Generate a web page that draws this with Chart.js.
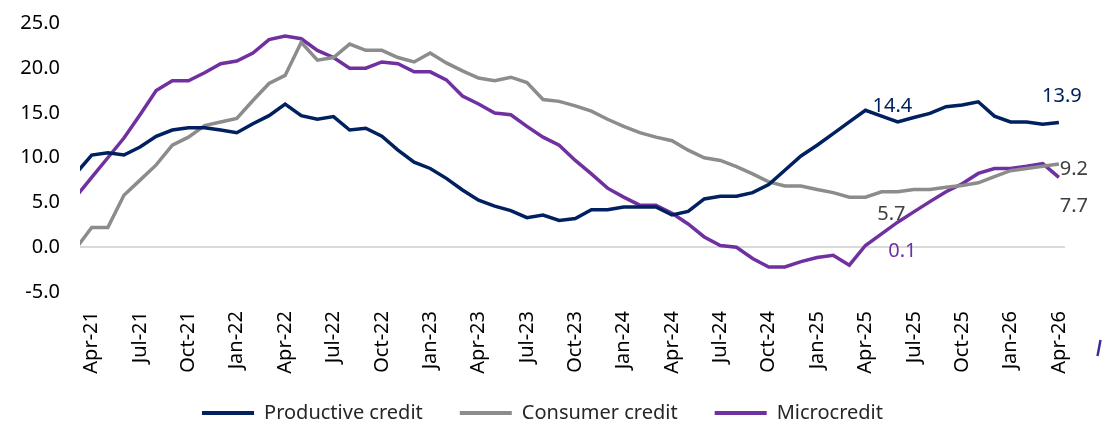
<!DOCTYPE html>
<html><head><meta charset="utf-8">
<script src="https://cdn.jsdelivr.net/npm/chart.js@4.4.1/dist/chart.umd.min.js"></script>
<style>html,body{margin:0;padding:0;background:#fff}#wrap{width:1114px;height:427px;position:relative}</style>
</head><body><div id="wrap"><canvas id="c" width="1114" height="427"></canvas></div>
<script>
const months = ['Mar-21','Apr-21','May-21','Jun-21','Jul-21','Aug-21','Sep-21','Oct-21','Nov-21','Dec-21',
'Jan-22','Feb-22','Mar-22','Apr-22','May-22','Jun-22','Jul-22','Aug-22','Sep-22','Oct-22','Nov-22','Dec-22',
'Jan-23','Feb-23','Mar-23','Apr-23','May-23','Jun-23','Jul-23','Aug-23','Sep-23','Oct-23','Nov-23','Dec-23',
'Jan-24','Feb-24','Mar-24','Apr-24','May-24','Jun-24','Jul-24','Aug-24','Sep-24','Oct-24','Nov-24','Dec-24',
'Jan-25','Feb-25','Mar-25','Apr-25','May-25','Jun-25','Jul-25','Aug-25','Sep-25','Oct-25','Nov-25','Dec-25',
'Jan-26','Feb-26','Mar-26','Apr-26'];
const tickMonths = ['Apr-21','Jul-21','Oct-21','Jan-22','Apr-22','Jul-22','Oct-22','Jan-23','Apr-23','Jul-23','Oct-23',
'Jan-24','Apr-24','Jul-24','Oct-24','Jan-25','Apr-25','Jul-25','Oct-25','Jan-26','Apr-26'];
const yTicks = [-5, 0, 5, 10, 15, 20, 25];
const seriesNames = ['Productive credit','Consumer credit','Microcredit'];
const productive = [8.2,10.3,10.55,10.3,11.2,12.4,13.1,13.35,13.35,13.1,12.8,13.8,14.7,16.0,14.7,14.3,14.6,13.1,13.3,12.4,
10.85,9.5,8.8,7.7,6.4,5.25,4.6,4.1,3.3,3.6,3.0,3.2,4.2,4.2,4.5,4.5,4.5,3.6,4.0,5.4,
5.7,5.7,6.1,7.0,8.6,10.2,11.4,12.7,14.0,15.3,14.65,14.0,14.5,14.95,15.7,15.9,16.25,14.65,14.0,14.0,13.75,13.95];
const consumer = [-0.2,2.2,2.2,5.8,7.5,9.2,11.4,12.3,13.6,14.0,14.4,16.4,18.3,19.2,22.9,20.9,21.2,22.7,22.0,22.0,
21.2,20.7,21.7,20.6,19.7,18.9,18.6,19.0,18.4,16.5,16.3,15.8,15.2,14.3,13.5,12.8,12.3,11.9,10.85,10.0,
9.7,9.0,8.2,7.3,6.85,6.85,6.45,6.1,5.6,5.6,6.2,6.2,6.45,6.45,6.7,6.9,7.2,7.9,8.55,8.8,9.05,9.3];
const micro = [5.6,7.8,10.0,12.2,14.8,17.5,18.6,18.6,19.5,20.5,20.8,21.7,23.2,23.6,23.3,22.0,21.2,20.0,20.0,20.7,
20.5,19.6,19.6,18.7,16.9,16.0,15.0,14.8,13.5,12.3,11.4,9.7,8.2,6.6,5.6,4.7,4.7,3.8,2.6,1.15,
0.2,0.0,-1.25,-2.2,-2.2,-1.6,-1.15,-0.9,-2.0,0.2,1.5,2.8,3.95,5.1,6.2,7.1,8.25,8.8,8.8,9.05,9.35,7.8];
const valueLabels = [
  {series:0, month:'Apr-25', text:'14.4'},
  {series:0, month:'Apr-26', text:'13.9'},
  {series:1, month:'Apr-26', text:'9.2'},
  {series:2, month:'Apr-26', text:'7.7'},
  {series:1, month:'Apr-25', text:'5.7'},
  {series:2, month:'Apr-25', text:'0.1'}
];
const labelOffsets = [[27,-4],[3,-26],[15,5],[15,29],[26,17],[37,6]];
const labelColors = ['#002060','#002060','#404040','#404040','#404040','#7030A0'];
const colors = ['#002060','#8c8c8c','#7030a0'];
const FONT = '"Noto Sans", Lato, sans-serif';
const FS = 20;

const toXY = arr => arr.map((v,i)=>({x:i, y:v}));
const series = [productive, consumer, micro];

const labelPlugin = {
  id:'valueLabels',
  afterLayout(chart){
    const lg = chart.legend;
    if (lg) {
      const h = lg.bottom - lg.top;
      lg.top = 413 - 37 - FS/2; lg.bottom = lg.top + h;
      lg.left += 10; lg.right += 10;
    }
  },
  afterDatasetsDraw(chart){
    const ctx = chart.ctx;
    ctx.save();
    ctx.font = FS + 'px ' + FONT;
    ctx.textAlign = 'center';
    ctx.textBaseline = 'middle';
    valueLabels.forEach((l,k)=>{
      const idx = months.indexOf(l.month);
      const p = chart.getDatasetMeta(l.series).data[idx];
      ctx.fillStyle = labelColors[k];
      ctx.fillText(l.text, p.x + labelOffsets[k][0], p.y + labelOffsets[k][1]);
    });
    ctx.restore();
  },
  afterDraw(chart){
    const ctx = chart.ctx;
    ctx.save();
    ctx.strokeStyle = '#3b2c9a';
    ctx.lineWidth = 2.5;
    ctx.beginPath(); ctx.moveTo(1100.5, 340); ctx.lineTo(1097.5, 356); ctx.stroke();
    ctx.restore();
  }
};

new Chart(document.getElementById('c'), {
  type:'line',
  data:{
    datasets: series.map((s,i)=>({
      label: seriesNames[i],
      data: toXY(s),
      borderColor: colors[i],
      backgroundColor: colors[i],
      borderWidth: 3.5,
      pointRadius: 0,
      tension: 0,
      clip: 0
    }))
  },
  options:{
    responsive:false,
    animation:false,
    layout:{padding:{left:0, right:49, top:23.5, bottom:-18}},
    plugins:{
      tooltip:{enabled:false},
      legend:{
        position:'bottom',
        labels:{
          boxWidth:52, boxHeight:4, padding:37,
          color:'#262626',
          font:{family:FONT, size:FS},
          generateLabels:(chart)=>chart.data.datasets.map((ds,i)=>({
            text: ds.label, fillStyle: ds.borderColor, strokeStyle: ds.borderColor,
            lineWidth:0, hidden:false, datasetIndex:i, fontColor:'#262626'
          }))
        }
      }
    },
    scales:{
      x:{
        type:'linear',
        min:0.274, max:61.38,
        border:{display:false},
        grid:{display:false, drawTicks:false},
        afterBuildTicks:(scale)=>{ scale.ticks = tickMonths.map(m=>({value: months.indexOf(m)})); },
        afterFit:(scale)=>{ scale.height = 86; },
        ticks:{
          autoSkip:false, minRotation:90, maxRotation:90, padding:19,
          color:'#000', font:{family:FONT, size:FS},
          callback:(v)=>months[v]
        }
      },
      y:{
        min:-5, max:25,
        border:{display:false},
        afterBuildTicks:(scale)=>{ scale.ticks = yTicks.map(v=>({value:v})); },
        afterFit:(scale)=>{ scale.width = 80; scale.paddingTop = 0; scale.paddingBottom = 0; },
        grid:{drawTicks:false, color:(c)=> c.tick && c.tick.value===0 ? '#d9d9d9' : 'rgba(0,0,0,0)', lineWidth:2},
        ticks:{padding:20, color:'#000', font:{family:FONT, size:FS}, callback:(v)=>v.toFixed(1)}
      }
    }
  },
  plugins:[labelPlugin]
});
</script></body></html>
